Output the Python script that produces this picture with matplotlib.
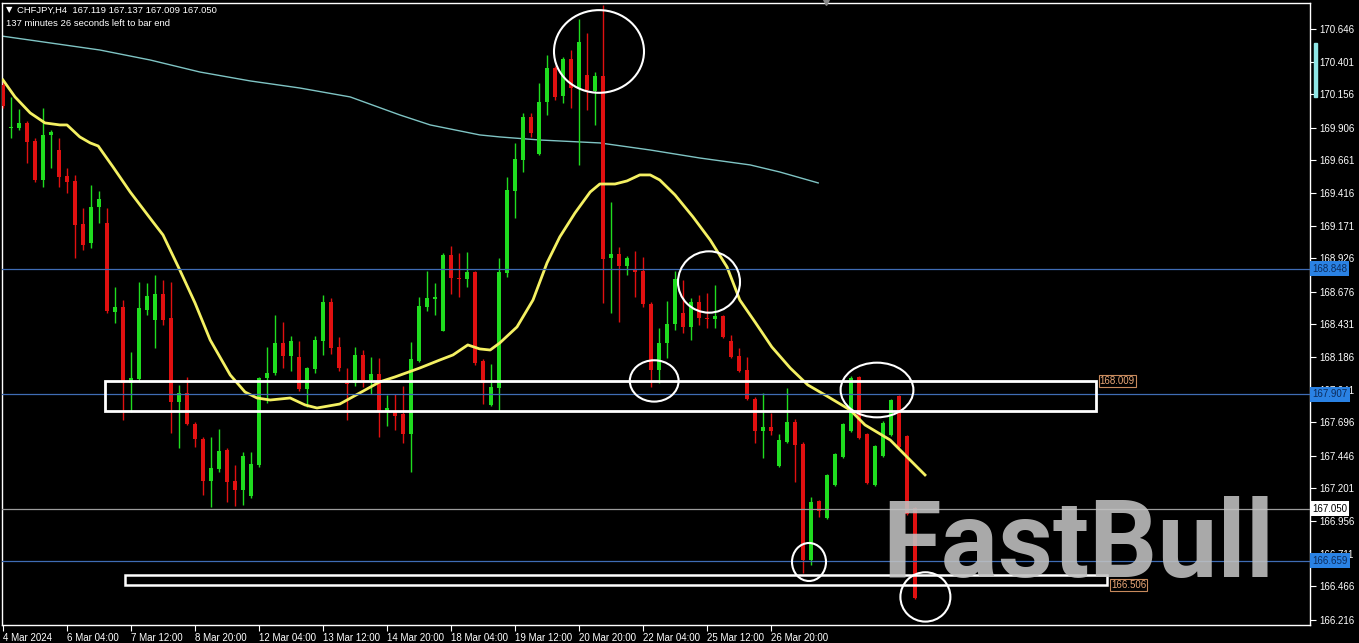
import matplotlib
matplotlib.use('Agg')
import matplotlib.pyplot as plt
from matplotlib.patches import Rectangle, Ellipse
from matplotlib.transforms import blended_transform_factory

# ---- data ----
opens = [170.226, 169.904, 169.904, 169.941, 169.806, 169.514, 169.851, 169.739, 169.544, 169.506,
         169.184, 169.041, 169.311, 169.191, 168.524, 168.561, 167.991, 168.021, 168.539, 168.464,
         168.659, 168.479, 167.849, 167.916, 167.684, 167.571, 167.256, 167.346, 167.489, 167.256,
         167.189, 167.144, 167.376, 168.029, 168.066, 168.291, 168.194, 168.186, 167.946, 168.096,
         168.306, 168.599, 168.261, 167.991, 167.991, 168.201, 168.014, 168.059, 167.774, 167.774,
         167.759, 167.609, 168.156, 168.561, 168.621, 168.381, 168.951, 168.779, 168.771, 168.824,
         168.156, 167.826, 167.954, 168.816, 169.431, 169.664, 169.986, 169.709, 170.099, 170.354,
         170.144, 170.421, 170.204, 170.301, 170.181, 170.294, 168.929, 168.959, 168.869, 168.839,
         168.831, 168.584, 168.089, 168.291, 168.434, 168.516, 168.411, 168.599, 168.479, 168.471,
         168.494, 168.306, 168.194, 168.089, 167.871, 167.631, 167.661, 167.369, 167.549, 167.699,
         167.534, 166.664, 167.106, 166.979, 167.226, 167.436, 167.631, 168.036, 167.609, 167.226,
         167.444, 167.601, 167.894, 167.594, 167.054]
highs = [170.264, 170.136, 170.046, 169.956, 169.829, 170.054, 169.889, 169.829, 169.604, 169.551,
         169.304, 169.476, 169.431, 169.304, 168.711, 168.614, 168.224, 168.749, 168.741, 168.801,
         168.764, 168.749, 167.976, 168.036, 167.699, 167.586, 167.586, 167.646, 167.504, 167.376,
         167.474, 167.474, 168.036, 168.261, 168.501, 168.449, 168.344, 168.306, 168.111, 168.344,
         168.651, 168.629, 168.336, 168.104, 168.261, 168.239, 168.186, 168.179, 167.901, 167.909,
         167.969, 168.299, 168.636, 168.831, 168.741, 168.966, 169.019, 168.966, 168.974, 168.831,
         168.171, 168.134, 168.929, 169.536, 169.791, 170.016, 170.016, 170.241, 170.451, 170.369,
         170.436, 170.489, 170.721, 170.616, 170.324, 170.826, 169.349, 169.011, 168.944, 168.981,
         168.936, 168.599, 168.404, 168.606, 168.831, 168.764, 168.629, 168.651, 168.666, 168.726,
         168.501, 168.351, 168.254, 168.186, 167.886, 167.916, 167.766, 167.609, 167.954, 167.721,
         167.549, 167.136, 167.114, 167.309, 167.466, 167.691, 168.044, 168.044, 167.616, 167.526,
         167.706, 167.871, 167.901, 167.601, 167.061]
lows = [170.054, 169.829, 169.889, 169.641, 169.499, 169.461, 169.604, 169.461, 169.416, 168.929,
        168.989, 169.004, 169.191, 168.516, 168.441, 167.714, 167.774, 167.999, 168.501, 168.254,
        168.426, 167.616, 167.504, 167.676, 167.511, 167.151, 167.061, 167.324, 167.099, 167.069,
        167.076, 167.129, 167.361, 167.841, 168.051, 168.104, 168.081, 167.931, 167.811, 168.066,
        168.201, 168.209, 168.081, 167.714, 167.969, 167.961, 167.909, 167.586, 167.669, 167.639,
        167.541, 167.324, 168.149, 168.531, 168.501, 168.381, 168.659, 168.636, 168.711, 168.126,
        167.834, 167.819, 167.781, 168.786, 169.229, 169.574, 169.836, 169.701, 170.001, 170.114,
        170.091, 170.054, 169.626, 170.039, 169.926, 168.591, 168.516, 168.449, 168.801, 168.636,
        168.561, 167.961, 167.991, 168.179, 168.389, 168.366, 168.314, 168.426, 168.404, 168.404,
        168.329, 168.179, 168.074, 167.864, 167.541, 167.429, 167.601, 167.361, 167.541, 167.249,
        166.566, 166.626, 166.986, 166.971, 167.219, 167.429, 167.624, 167.571, 167.234, 167.219,
        167.436, 167.594, 167.504, 167.001, 166.371]
closes = [170.069, 169.911, 169.941, 169.799, 169.514, 169.851, 169.874, 169.536, 169.499, 169.176,
          169.026, 169.311, 169.371, 168.531, 168.561, 167.991, 168.029, 168.554, 168.644, 168.659,
          168.464, 167.849, 167.916, 167.684, 167.571, 167.256, 167.354, 167.481, 167.249, 167.189,
          167.444, 167.384, 168.029, 168.066, 168.291, 168.194, 168.306, 167.946, 168.104, 168.314,
          168.599, 168.254, 168.104, 167.984, 168.201, 168.014, 168.059, 167.781, 167.804, 167.744,
          167.609, 168.171, 168.569, 168.629, 168.636, 168.951, 168.779, 168.771, 168.824, 168.141,
          167.991, 167.961, 168.824, 169.439, 169.671, 169.986, 169.866, 170.099, 170.354, 170.136,
          170.421, 170.204, 170.549, 170.189, 170.294, 168.921, 168.959, 168.869, 168.929, 168.824,
          168.584, 168.089, 168.291, 168.434, 168.771, 168.411, 168.599, 168.479, 168.471, 168.494,
          168.336, 168.186, 168.081, 167.871, 167.631, 167.661, 167.631, 167.564, 167.699, 167.526,
          166.664, 167.099, 167.031, 167.301, 167.459, 167.684, 168.029, 167.579, 167.241, 167.519,
          167.691, 167.864, 167.511, 167.009, 166.379]

# moving averages, read at sample bars
ma20_bar = [0, 1.5, 3.4, 5.25, 7.1, 8, 9.6, 10.9, 11.9, 13.75, 15.9, 18.75, 20, 22.1, 24, 25.9,
            28.4, 30.25, 31.75, 33.4, 35.9, 37.75, 39.25, 42.1, 44.6, 47.1, 49, 52.1, 54.6, 56.25,
            58.1, 59.6, 60.9, 62.1, 64.25, 66.25, 68, 69.6, 71.5, 73.4, 74.6, 76.5, 78, 79.6, 80.9,
            82.1, 84, 86.25, 88.4, 90.5, 92.1, 94, 96.1, 98.4, 100.6, 102.75, 105.9, 107.75, 110.9,
            112.75, 115.25]
ma20_val = [170.264, 170.137, 170.017, 169.942, 169.927, 169.927, 169.837, 169.792, 169.769,
            169.612, 169.424, 169.199, 169.102, 168.839, 168.592, 168.314, 168.052, 167.924,
            167.879, 167.864, 167.879, 167.827, 167.804, 167.834, 167.917, 168.000, 168.037,
            168.104, 168.164, 168.202, 168.277, 168.247, 168.239, 168.292, 168.412, 168.614,
            168.892, 169.087, 169.267, 169.424, 169.484, 169.484, 169.507, 169.552, 169.552,
            169.514, 169.402, 169.237, 169.064, 168.862, 168.614, 168.449, 168.262, 168.104,
            167.977, 167.902, 167.789, 167.677, 167.564, 167.452, 167.302]
ma200_bar = [-0.2, 5.9, 12.1, 18.4, 24.6, 30.9, 37.1, 43.4, 49.6, 53.4, 59.6, 62.1, 67.1, 74.6,
             80.9, 87.1, 93.4, 97.1, 101.9]
ma200_val = [170.594, 170.542, 170.489, 170.414, 170.324, 170.257, 170.204, 170.137, 170.002,
             169.927, 169.852, 169.837, 169.814, 169.792, 169.739, 169.679, 169.627, 169.574,
             169.492]

price_ticks = [170.646, 170.401, 170.156, 169.906, 169.661, 169.416, 169.171, 168.926, 168.676,
               168.431, 168.186, 167.941, 167.696, 167.446, 167.201, 166.956, 166.711, 166.466,
               166.216]
date_labels = ['4 Mar 2024', '6 Mar 04:00', '7 Mar 12:00', '8 Mar 20:00', '12 Mar 04:00',
               '13 Mar 12:00', '14 Mar 20:00', '18 Mar 04:00', '19 Mar 12:00', '20 Mar 20:00',
               '22 Mar 04:00', '25 Mar 12:00', '26 Mar 20:00']
blue_levels = [168.848, 167.907, 166.659]
bid_level = 167.050
zone_hi = (167.782, 168.009)
zone_lo = (166.478, 166.552)

# ---- figure ----
W, H = 1359, 643
FONT = ['Liberation Sans', 'DejaVu Sans']
plt.rcParams['font.family'] = FONT
FS = 7
GREEN, RED = '#1fdc1f', '#e01010'
BLUE_LINE = '#3f6cb4'

fig = plt.figure(figsize=(W / 100, H / 100), dpi=100, facecolor='black')
L, R, T, B = 2, 1310, 3, 625
ax = fig.add_axes([L / W, 1 - B / H, (R - L) / W, (B - T) / H], facecolor='black')
ax.set_xlim(-0.125, 163.375)
ax.set_ylim(166.1765, 170.8415)

# candles
for i, (o, h, l, c) in enumerate(zip(opens, highs, lows, closes)):
    col = GREEN if c >= o else RED
    ax.vlines(i, l, h, color=col, lw=1, zorder=3)
    ax.bar(i, max(abs(c - o), 0.008), bottom=min(o, c), width=0.62, color=col,
           lw=0, zorder=3)

ax.plot(ma200_bar, ma200_val, color='#7fc4c4', lw=1, zorder=2)
ax.plot(ma20_bar, ma20_val, color='#f4f062', lw=2, zorder=4)

# watermark
fig.text(882 / W, 1 - 577 / H, 'FastBull', family=['Roboto', 'DejaVu Sans'],
         weight='bold', fontsize=77, color='#c2c2c2', alpha=0.88, ha='left',
         va='baseline', zorder=5)

# horizontal levels
for lv in blue_levels:
    ax.axhline(lv, color=BLUE_LINE, lw=0.9, zorder=6)
ax.axhline(bid_level, color='#9c9c9c', lw=0.9, zorder=6)

# zones
ax.add_patch(Rectangle((12.75, zone_hi[0]), 136.6 - 12.75, zone_hi[1] - zone_hi[0],
                       fill=False, ec='white', lw=2, zorder=7))
ax.add_patch(Rectangle((15.2, zone_lo[0]), 138.0 - 15.2, zone_lo[1] - zone_lo[0],
                       fill=False, ec='white', lw=1.8, zorder=7))
lab = dict(color='#eaa878', fontsize=FS, va='center', ha='left', zorder=8,
           bbox=dict(boxstyle='square,pad=0.12', fc='black', ec='#c88a5c', lw=0.8))
ax.text(137.1, zone_hi[1], '168.009', **lab)
ax.text(138.5, 166.506 - 0.03, '166.506', **lab)

# circles
for cx, cy, w, h in [(74.5, 170.478, 11.25, 0.62), (88.25, 168.749, 7.75, 0.46),
                     (81.4, 168.007, 6.1, 0.31), (109.25, 167.939, 9.1, 0.41),
                     (100.75, 166.649, 4.25, 0.285), (115.3, 166.387, 6.25, 0.37)]:
    ax.add_patch(Ellipse((cx, cy), w, h, fill=False, ec='white', lw=1.5, zorder=8))

# axes styling
for s in ax.spines.values():
    s.set_color('white')
    s.set_linewidth(1)
ax.yaxis.tick_right()
ax.set_yticks(price_ticks)
ax.set_yticklabels([f'{v:.3f}' for v in price_ticks])
ax.tick_params(axis='y', colors='white', length=4, width=0.8, pad=3, labelsize=FS)
ax.set_xticks(list(range(0, 97, 8)))
ax.set_xticklabels(date_labels)
ax.tick_params(axis='x', colors='white', length=4, width=0.8, pad=2, labelsize=FS)
for t in ax.get_xticklabels():
    t.set_ha('left')

# price boxes on the right scale
tr = blended_transform_factory(ax.transAxes, ax.transData)
for lv in blue_levels:
    ax.text(1.0015, lv, f'{lv:.3f}', transform=tr, fontsize=FS, color='#0c2c5c',
            va='center', ha='left', zorder=9, clip_on=False,
            bbox=dict(boxstyle='square,pad=0.25', fc='#2a82e4', ec='none'))
ax.text(1.0015, bid_level, f'{bid_level:.3f}', transform=tr, fontsize=FS, color='black',
        va='center', ha='left', zorder=9, clip_on=False,
        bbox=dict(boxstyle='square,pad=0.25', fc='white', ec='none'))

# scroll marker on price scale & chart shift triangle
fig.add_artist(Rectangle((1314 / W, 1 - 97 / H), 2.5 / W, 54 / H,
                         transform=fig.transFigure, color='#8fe6e6'))
ax.plot([102.9], [170.86], marker='v', ms=6, color='#8a8a8a', clip_on=False, zorder=9)

# header
fig.text(6 / W, 1 - 10 / H, '\u25bc', fontsize=6, color='white', va='center', ha='left',
         family=['DejaVu Sans'])
fig.text(17 / W, 1 - 10 / H, 'CHFJPY,H4  167.119 167.137 167.009 167.050', fontsize=6.8,
         color='white', va='center', ha='left')
fig.text(6 / W, 1 - 23 / H, '137 minutes 26 seconds left to bar end', fontsize=6.8,
         color='white', va='center', ha='left')

fig.savefig('out.png', dpi=100, facecolor='black')
